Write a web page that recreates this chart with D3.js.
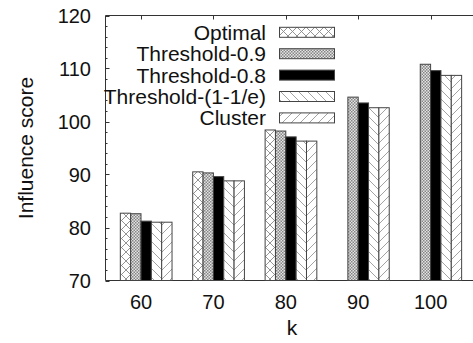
<!DOCTYPE html>
<html>
<head>
<meta charset="utf-8">
<script src="https://cdn.jsdelivr.net/npm/d3@7"></script>
<style>
  body { margin: 0; background: #fff; }
  svg { display: block; font-family: 'Liberation Sans', Arial, sans-serif; }
</style>
</head>
<body>
<svg width="473" height="343"></svg>
<script>
// data
const ks = ['60', '70', '80', '90', '100']
const seriesNames = ['Optimal', 'Threshold-0.9', 'Threshold-0.8', 'Threshold-(1-1/e)', 'Cluster']
const optimal = [82.7, 90.5, 98.4, null, null]
const thr09 = [82.6, 90.3, 98.2, 104.6, 110.8]
const thr08 = [81.2, 89.6, 97.1, 103.5, 109.6]
const thrE = [81.0, 88.8, 96.3, 102.6, 108.7]
const cluster = [81.0, 88.8, 96.3, 102.6, 108.7]
const yTicks = [70, 80, 90, 100, 110, 120]

const series = [optimal, thr09, thr08, thrE, cluster]

let svg = d3.select('svg')
const width = +svg.attr('width')

const plotLeft = 105.5
const plotTop = 15.5
const plotBottom = 280.5

// patterns
const defs = svg.append('defs')
const hatch = (id, draw) => {
  const p = defs.append('pattern')
    .attr('id', id)
    .attr('patternUnits', 'userSpaceOnUse')
    .attr('width', 9)
    .attr('height', 9)
  p.append('rect').attr('width', 9).attr('height', 9).attr('fill', '#fff')
  draw(p)
}
hatch('p-cross', p => {
  p.append('path').attr('d', 'M0,0L9,9M9,0L0,9').attr('stroke', '#888').attr('stroke-width', 0.9)
})
hatch('p-back', p => {
  p.append('path').attr('d', 'M0,0L9,9M-1,8L1,10M8,-1L10,1').attr('stroke', '#999').attr('stroke-width', 0.9)
})
hatch('p-fwd', p => {
  p.append('path').attr('d', 'M0,9L9,0M-1,1L1,-1M8,10L10,8').attr('stroke', '#999').attr('stroke-width', 0.9)
})
const dots = defs.append('pattern')
  .attr('id', 'p-dots')
  .attr('patternUnits', 'userSpaceOnUse')
  .attr('width', 3)
  .attr('height', 3)
dots.append('rect').attr('width', 3).attr('height', 3).attr('fill', '#e4e4e4')
dots.append('rect').attr('width', 1.5).attr('height', 1.5).attr('fill', '#858585')
dots.append('rect').attr('x', 1.5).attr('y', 1.5).attr('width', 1.5).attr('height', 1.5).attr('fill', '#858585')

const fills = ['url(#p-cross)', 'url(#p-dots)', '#000', 'url(#p-back)', 'url(#p-fwd)']

// scales
const x = d3.scaleLinear().domain([0, ks.length - 1]).range([141, 430.6])
const y = d3.scaleLinear().domain([70, 120]).range([plotBottom, plotTop])
const barW = (x(1) - x(0)) / 7

// frame
svg.append('path')
  .attr('d', `M${width},${plotTop}H${plotLeft}V${plotBottom}H${width}`)
  .attr('fill', 'none')
  .attr('stroke', '#333')

// y ticks (inside) + labels
const minor = d3.range(70, 120.1, 2)
svg.append('g')
  .selectAll('line')
  .data(minor)
  .enter()
  .append('line')
  .attr('x1', plotLeft)
  .attr('x2', d => plotLeft + (d % 10 === 0 ? 4 : 2))
  .attr('y1', d => Math.round(y(d)) + 0.5)
  .attr('y2', d => Math.round(y(d)) + 0.5)
  .attr('stroke', '#333')

svg.append('g')
  .selectAll('text')
  .data(yTicks)
  .enter()
  .append('text')
  .attr('x', 91)
  .attr('y', d => y(d))
  .attr('dy', '0.36em')
  .attr('text-anchor', 'end')
  .attr('font-size', 20)
  .attr('fill', '#111')
  .text(d => d)

// x ticks on top and bottom
svg.append('g')
  .selectAll('path')
  .data(ks)
  .enter()
  .append('path')
  .attr('d', (d, i) => {
    const xx = Math.round(x(i)) + 0.5
    return `M${xx},${plotTop}v4M${xx},${plotBottom}v-4`
  })
  .attr('stroke', '#333')

svg.append('g')
  .selectAll('text')
  .data(ks)
  .enter()
  .append('text')
  .attr('x', (d, i) => x(i))
  .attr('y', 309)
  .attr('text-anchor', 'middle')
  .attr('font-size', 20)
  .attr('fill', '#111')
  .text(d => d)

// axis titles
svg.append('text')
  .attr('x', 292)
  .attr('y', 335)
  .attr('text-anchor', 'middle')
  .attr('font-size', 21)
  .attr('fill', '#111')
  .text('k')

svg.append('text')
  .attr('transform', 'translate(33,148) rotate(-90)')
  .attr('text-anchor', 'middle')
  .attr('font-size', 21)
  .attr('fill', '#111')
  .text('Influence score')

// bars
series.forEach((vals, s) => {
  svg.append('g')
    .selectAll('rect')
    .data(vals.map((v, i) => ({ v, i })).filter(d => d.v != null))
    .enter()
    .append('rect')
    .attr('x', d => x(d.i) + (s - 2) * barW)
    .attr('y', d => y(d.v))
    .attr('width', barW)
    .attr('height', d => plotBottom - y(d.v))
    .attr('fill', fills[s])
    .attr('stroke', '#444')
    .attr('stroke-width', 1)
})

// legend
const legend = svg.append('g')
seriesNames.forEach((name, i) => {
  const cy = 32.3 + i * 21.4
  legend.append('text')
    .attr('x', 266)
    .attr('y', cy)
    .attr('dy', '0.36em')
    .attr('text-anchor', 'end')
    .attr('font-size', 21)
    .attr('fill', '#111')
    .text(name)
  legend.append('rect')
    .attr('x', 279.5)
    .attr('y', cy - 5)
    .attr('width', 55)
    .attr('height', 10)
    .attr('fill', fills[i])
    .attr('stroke', '#444')
})
</script>
</body>
</html>
